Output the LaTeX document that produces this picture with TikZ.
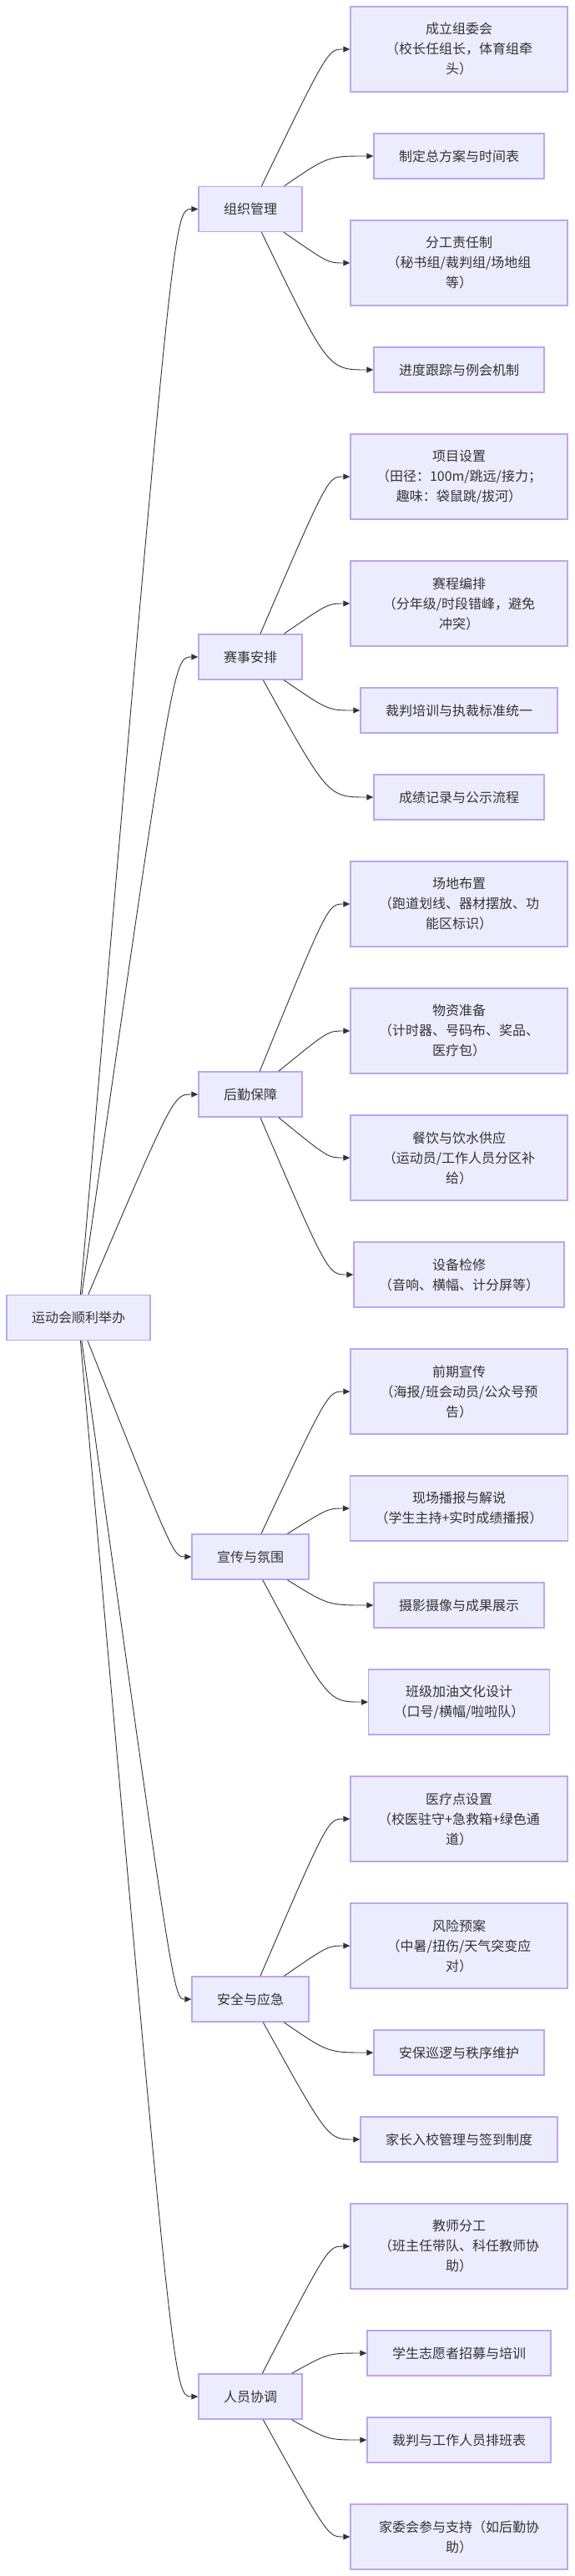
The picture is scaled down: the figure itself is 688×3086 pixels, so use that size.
\documentclass[tikz,border=0pt]{standalone}
\usepackage{fontspec}
\setmainfont{Noto Sans CJK SC}
\usetikzlibrary{arrows.meta}
\definecolor{boxfill}{HTML}{ECECFF}
\definecolor{boxline}{HTML}{BBA6EE}
\definecolor{ink}{HTML}{333333}
\tikzset{
  box/.style={draw=boxline, fill=boxfill, line width=1.4pt, text=ink, align=center,
    inner xsep=30pt, inner ysep=0pt, font=\fontsize{16}{24}\selectfont},
  oneline/.style={box, minimum height=54pt},
  twoline/.style={box, minimum height=78pt},
  threeline/.style={box, minimum height=102pt, text width=200pt},
  link/.style={draw=ink, line width=0.9pt, -{Triangle[length=8pt,width=7pt]}},
}
\begin{document}
\begin{tikzpicture}[x=1pt,y=-1pt]
        \useasboundingbox (0,0) rectangle (688,3086);
        \node[oneline] (root) at (94,1578.5) {运动会顺利举办};

        % categories
        \node[oneline] (org) at (300,250.5) {组织管理};
        \node[oneline] (game) at (300,787) {赛事安排};
        \node[oneline] (supply) at (300,1311) {后勤保障};
        \node[oneline] (promo) at (300,1865) {宣传与氛围};
        \node[oneline] (safe) at (300,2395) {安全与应急};
        \node[oneline] (staff) at (300,2871) {人员协调};

        % organisation
        \node[threeline] (org1) at (550,59) {成立组委会\\（校长任组长，体育组牵\\头）};
        \node[oneline] (org2) at (550,187) {制定总方案与时间表};
        \node[threeline] (org3) at (550,315) {分工责任制\\（秘书组/裁判组/场地组\\等）};
        \node[oneline] (org4) at (550,443) {进度跟踪与例会机制};

        % events
        \node[threeline] (game1) at (550,571) {项目设置\\（田径：100m/跳远/接力；\\趣味：袋鼠跳/拔河）};
        \node[threeline] (game2) at (550,723) {赛程编排\\（分年级/时段错峰，避免\\冲突）};
        \node[oneline] (game3) at (550,851) {裁判培训与执裁标准统一};
        \node[oneline] (game4) at (550,955) {成绩记录与公示流程};

        % logistics
        \node[threeline] (supply1) at (550,1083) {场地布置\\（跑道划线、器材摆放、功\\能区标识）};
        \node[threeline] (supply2) at (550,1235) {物资准备\\（计时器、号码布、奖品、\\医疗包）};
        \node[threeline] (supply3) at (550,1387) {餐饮与饮水供应\\（运动员/工作人员分区补\\给）};
        \node[twoline] (supply4) at (550,1527) {设备检修\\（音响、横幅、计分屏等）};

        % promotion
        \node[threeline] (promo1) at (550,1667) {前期宣传\\（海报/班会动员/公众号预\\告）};
        \node[twoline] (promo2) at (550,1807) {现场播报与解说\\（学生主持+实时成绩播报）};
        \node[oneline] (promo3) at (550,1923) {摄影摄像与成果展示};
        \node[twoline] (promo4) at (550,2039) {班级加油文化设计\\（口号/横幅/啦啦队）};

        % safety
        \node[threeline] (safe1) at (550,2179) {医疗点设置\\（校医驻守+急救箱+绿色通\\道）};
        \node[threeline] (safe2) at (550,2331) {风险预案\\（中暑/扭伤/天气突变应\\对）};
        \node[oneline] (safe3) at (550,2459) {安保巡逻与秩序维护};
        \node[oneline] (safe4) at (550,2563) {家长入校管理与签到制度};

        % staff
        \node[threeline] (staff1) at (550,2691) {教师分工\\（班主任带队、科任教师协\\助）};
        \node[oneline] (staff2) at (550,2819) {学生志愿者招募与培训};
        \node[oneline] (staff3) at (550,2923) {裁判与工作人员排班表};
        \node[twoline, text width=200pt] (staff4) at (550,3039) {家委会参与支持（如后勤协\\助）};

        \foreach \g/\y in {org/250.5, game/787, supply/1311, promo/1865, safe/2395, staff/2871} {
             \draw[link] (root) .. controls (208,\y) .. (\g.west);
        }
        \foreach \g/\c/\y in {org/org1/59, org/org2/187, org/org3/315, org/org4/443,
                game/game1/571, game/game2/723, game/game3/851, game/game4/955,
                supply/supply1/1083, supply/supply2/1235, supply/supply3/1387, supply/supply4/1527,
                promo/promo1/1667, promo/promo2/1807, promo/promo3/1923, promo/promo4/2039,
                safe/safe1/2179, safe/safe2/2331, safe/safe3/2459, safe/safe4/2563,
                staff/staff1/2691, staff/staff2/2819, staff/staff3/2923, staff/staff4/3039} {
             \draw[link] (\g) .. controls (393,\y) .. (\c.west);
        }
\end{tikzpicture}
\end{document}
